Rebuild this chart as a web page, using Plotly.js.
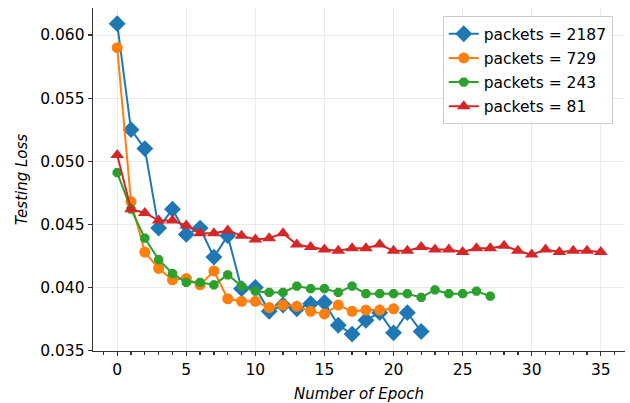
<!DOCTYPE html>
<html>
<head>
<meta charset="utf-8">
<script src="https://cdn.plot.ly/plotly-3.0.1.min.js"></script>
<style>html,body{margin:0;padding:0;background:#fff}#chart{width:630px;height:403px}</style>
</head>
<body>
<div id="chart"></div>
<script>
const seriesNames = ["packets = 2187", "packets = 729", "packets = 243", "packets = 81"];
const loss2187 = [0.0609, 0.0525, 0.0510, 0.0447, 0.0462, 0.0442, 0.0447, 0.0424, 0.0441, 0.0399, 0.0400, 0.0381, 0.0386, 0.0383, 0.0387, 0.0388, 0.0370, 0.0363, 0.0374, 0.0380, 0.0364, 0.0380, 0.0365];
const loss729 = [0.0590, 0.0468, 0.0428, 0.0415, 0.0406, 0.0407, 0.0402, 0.0413, 0.0391, 0.0389, 0.0389, 0.0384, 0.0386, 0.0385, 0.0381, 0.0379, 0.0386, 0.0381, 0.0382, 0.0382, 0.0383];
const loss243 = [0.0491, 0.0462, 0.0439, 0.0422, 0.0411, 0.0404, 0.0404, 0.0402, 0.0410, 0.0401, 0.0397, 0.0396, 0.0396, 0.0401, 0.0399, 0.0399, 0.0396, 0.0401, 0.0395, 0.0395, 0.0395, 0.0395, 0.0392, 0.0398, 0.0395, 0.0395, 0.0397, 0.0393];
const loss81 = [0.0505, 0.0462, 0.0459, 0.0453, 0.0453, 0.0449, 0.0443, 0.0443, 0.0445, 0.0441, 0.0438, 0.0439, 0.0443, 0.0434, 0.0432, 0.0430, 0.0429, 0.0431, 0.0431, 0.0434, 0.0429, 0.0429, 0.0432, 0.0430, 0.0430, 0.0428, 0.0431, 0.0431, 0.0433, 0.0429, 0.0426, 0.0430, 0.0428, 0.0429, 0.0429, 0.0428];
const xTicks = [0, 5, 10, 15, 20, 25, 30, 35];
const yTicks = [0.035, 0.040, 0.045, 0.050, 0.055, 0.060];
const yTickLabels = ["0.035", "0.040", "0.045", "0.050", "0.055", "0.060"];

const allSeries = [loss2187, loss729, loss243, loss81];
const colors = ["#1f77b4", "#ff7f0e", "#2ca02c", "#d62728"];
const symbols = ["diamond", "circle", "octagon", "triangle-up"];
const sizes = [13, 11, 10, 12];

const traces = allSeries.map((vals, i) => ({
  x: vals.map((_, k) => k),
  y: vals,
  name: seriesNames[i],
  legendgroup: "g" + i,
  type: "scatter",
  mode: "lines+markers",
  line: {color: colors[i], width: 2},
  marker: {color: colors[i], symbol: symbols[i], size: sizes[i]}
}));

const font = {family: "DejaVu Sans", size: 15.5, color: "#000"};
const titleFont = {family: "DejaVu Sans", size: 15, color: "#000"};
const layout = {
  width: 630, height: 403,
  margin: {l: 93, r: 5, t: 8, b: 52},
  paper_bgcolor: "#fff", plot_bgcolor: "#fff",
  font: font,
  showlegend: true,
  legend: {
    x: 0.977, xanchor: "right", y: 0.976, yanchor: "top",
    bgcolor: "rgba(255,255,255,0.85)", bordercolor: "#cccccc", borderwidth: 1,
    font: {family: "DejaVu Sans", size: 15.5, color: "#000"},
    tracegroupgap: 1, itemwidth: 30
  },
  xaxis: {
    range: [-1.75, 36.75],
    tickvals: xTicks,
    ticktext: xTicks.map(String),
    ticks: "outside", ticklen: 4, tickwidth: 1.2, tickcolor: "#333",
    showline: true, linecolor: "#333", linewidth: 1.3,
    showgrid: true, gridcolor: "#ebebeb", gridwidth: 1,
    zeroline: false,
    minor: {dtick: 1, tick0: 0, ticks: "outside", ticklen: 2.5, tickcolor: "#333", showgrid: false},
    title: {text: "<i>Number of Epoch</i>", font: titleFont, standoff: 10},
    tickfont: font
  },
  yaxis: {
    range: [0.03496, 0.06214],
    tickvals: yTicks,
    ticktext: yTickLabels,
    ticks: "outside", ticklen: 4, tickwidth: 1.2, tickcolor: "#333",
    showline: true, linecolor: "#333", linewidth: 1.3,
    showgrid: true, gridcolor: "#ebebeb", gridwidth: 1,
    zeroline: false,
    title: {text: "<i>Testing Loss</i>", font: titleFont, standoff: 9},
    tickfont: font
  }
};
Plotly.newPlot("chart", traces, layout, {displayModeBar: false, staticPlot: true});
</script>
</body>
</html>
